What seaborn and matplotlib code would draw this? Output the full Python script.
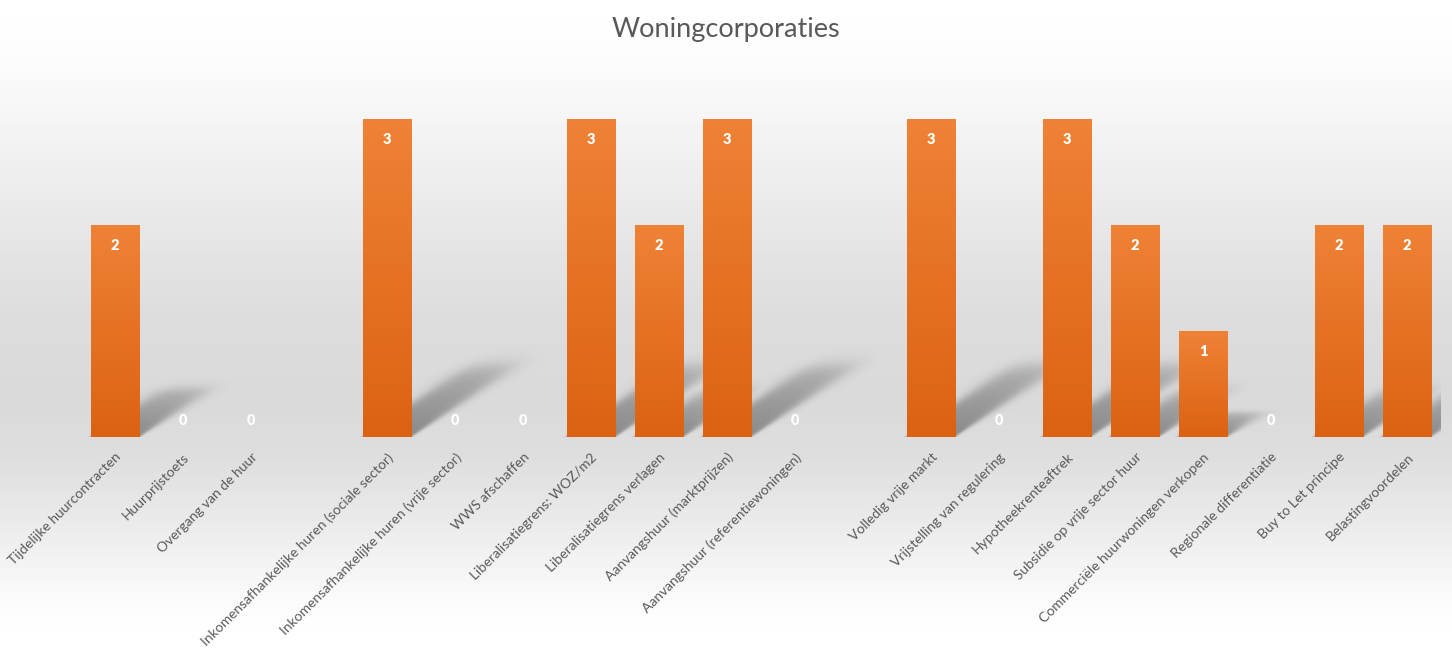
import numpy as np
import pandas as pd
import matplotlib
matplotlib.use("Agg")
import matplotlib.pyplot as plt
import seaborn as sns
from matplotlib.colors import LinearSegmentedColormap

# ---- data ----
categories = [
    "Tijdelijke huurcontracten", "Huurprijstoets", "Overgang van de huur", "",
    "Inkomensafhankelijke huren (sociale sector)", "Inkomensafhankelijke huren (vrije sector)",
    "WWS afschaffen", "Liberalisatiegrens: WOZ/m2", "Liberalisatiegrens verlagen",
    "Aanvangshuur (marktprijzen)", "Aanvangshuur (referentiewoningen)", " ",
    "Volledig vrije markt", "Vrijstelling van regulering", "Hypotheekrenteaftrek",
    "Subsidie op vrije sector huur", "Commerciële huurwoningen verkopen",
    "Regionale differentiatie", "Buy to Let principe", "Belastingvoordelen",
]
values = [2, 0, 0, None, 3, 0, 0, 3, 2, 3, 0, None, 3, 0, 3, 2, 1, 0, 2, 2]
title = "Woningcorporaties"

df = pd.DataFrame({"cat": categories, "val": values}).dropna()

sns.set_theme(style="white")
plt.rcParams["font.family"] = ["Lato", "DejaVu Sans"]

W, H = 1452, 648
fig = plt.figure(figsize=(W / 100, H / 100), dpi=100)

# background gradient
bg = fig.add_axes([0, 0, 1, 1], zorder=-10)
stops_y = np.array([0.0, 0.08, 0.20, 0.35, 0.50, 0.62, 0.70, 0.80, 0.90, 0.96, 1.0])
stops_v = np.array([1.0, 0.99, 0.955, 0.905, 0.862, 0.852, 0.868, 0.915, 0.97, 0.995, 1.0])
yy = np.linspace(0, 1, H)
grad = np.interp(yy, stops_y, stops_v).reshape(-1, 1)
bg.imshow(grad, cmap="gray", vmin=0, vmax=1, aspect="auto", extent=[0, 1, 1, 0])
bg.set_axis_off()

left, right = 81 / W, 1441 / W
bottom = (H - 437) / H
top = (H - 66) / H
ax = fig.add_axes([left, bottom, right - left, top - bottom])
ax.set_facecolor("none")

sns.barplot(data=df, x="cat", y="val", order=categories, color="#ED7D31",
            saturation=1, width=0.72, ax=ax, zorder=3, linewidth=0, edgecolor="none")

xmin, xmax, ymin, ymax = -0.5, len(categories) - 0.5, 0, 3.5

# soft perspective shadows, computed from the bar geometry
nx, ny = 1360, 371
X, Y = np.meshgrid(np.linspace(xmin, xmax, nx), np.linspace(ymin, ymax, ny))
alpha = np.zeros_like(X)
bar_cmap = LinearSegmentedColormap.from_list("bar", ["#dc6212", "#ef8236"])
bars = []
for p in list(ax.patches):
    h = p.get_height()
    if not np.isfinite(h) or h <= 0:
        continue
    x0, w = p.get_x(), p.get_width()
    bars.append((x0, w, h))
    dx, dy = 0.55 * h, 0.24 * h
    t = Y / dy
    s = X - (x0 + t * dx)
    b = 0.015 + 0.09 * np.clip(t, 0, 1.2)
    edge_l = 1 / (1 + np.exp(-s / b))
    edge_r = 1 / (1 + np.exp((s - w) / b))
    edge_t = 1 / (1 + np.exp((t - 0.95) / 0.06))
    a = 0.38 * (1 - 0.5 * np.clip(t, 0, 1)) * edge_l * edge_r * edge_t
    alpha = np.maximum(alpha, a)
rgba = np.zeros((ny, nx, 4))
rgba[..., 3] = alpha
ax.imshow(rgba, origin="lower", extent=[xmin, xmax, ymin, ymax], aspect="auto",
          zorder=1, interpolation="bilinear")

for x0, w, h in bars:
    grad_bar = np.linspace(1, 0, 256).reshape(-1, 1)
    ax.imshow(grad_bar, cmap=bar_cmap, vmin=0, vmax=1, aspect="auto",
              extent=[x0, x0 + w, 0, h], zorder=3.5, interpolation="bicubic")

ax.set_xlim(xmin, xmax)
ax.set_ylim(ymin, ymax)

# value labels
for i, v in enumerate(values):
    if v is None:
        continue
    off = -14.5 if v > 0 else 12.0
    ax.annotate(f"{int(v)}", xy=(i, v), xytext=(0, off), textcoords="offset points",
                ha="center", va="center", color="white", fontweight="heavy",
                fontsize=10.5, zorder=5)

ax.set_xlabel("")
ax.set_ylabel("")
ax.set_yticks([])
ax.set_xticks(range(len(categories)))
ax.set_xticklabels(categories, rotation=45, ha="right", rotation_mode="anchor",
                   color="#595959", fontsize=10)
ax.tick_params(axis="x", length=0, pad=10)
for s_ in ax.spines.values():
    s_.set_visible(False)

fig.text(0.5, 1 - 30 / H, title, ha="center", va="center", fontsize=19.5, color="#595959")

fig.savefig("out.png", dpi=100)
